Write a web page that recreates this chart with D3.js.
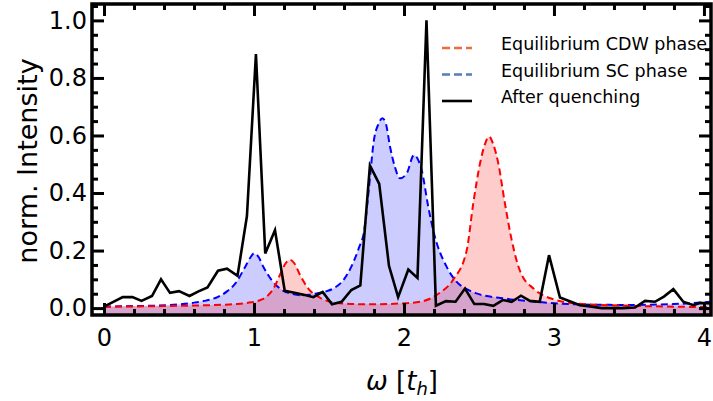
<!DOCTYPE html>
<html>
<head>
<meta charset="utf-8">
<script src="https://cdn.jsdelivr.net/npm/d3@7"></script>
<style>
  body { margin: 0; background: #fff; }
  text { font-family: "DejaVu Sans", Verdana, sans-serif; fill: #000; }
</style>
</head>
<body>
<div id="chart"></div>
<script>
// spectra (omega in t_h, normalised intensity)
const quenchW = [0.0, 0.125, 0.19, 0.25, 0.32, 0.38, 0.44, 0.50, 0.57, 0.63, 0.69, 0.76, 0.82, 0.89, 0.953, 1.013,
  1.075, 1.14, 1.205, 1.27, 1.333, 1.396, 1.458, 1.52, 1.584, 1.649, 1.709, 1.773, 1.835, 1.9, 1.961, 2.029, 2.09, 2.15,
  2.213, 2.28, 2.344, 2.407, 2.469, 2.533, 2.596, 2.658, 2.718, 2.78, 2.84, 2.905, 2.967, 3.04, 3.105, 3.173, 3.24,
  3.318, 3.384, 3.46, 3.54, 3.607, 3.673, 3.733, 3.796, 3.862, 3.93, 3.973, 4.05];
const quenchI = [0.005, 0.038, 0.038, 0.025, 0.042, 0.10, 0.053, 0.059, 0.042, 0.058, 0.072, 0.13, 0.137, 0.112, 0.32, 0.883,
  0.19, 0.271, 0.06, 0.053, 0.046, 0.038, 0.056, 0.013, 0.022, 0.063, 0.079, 0.496, 0.432, 0.147, 0.038, 0.134, 0.105, 1.0,
  0.008, 0.024, 0.022, 0.068, 0.014, 0.014, 0.008, 0.028, 0.022, 0.043, 0.025, 0.022, 0.184, 0.037, 0.024, 0.01, 0.006,
  0.0, 0.0, 0.0, 0.002, 0.025, 0.022, 0.04, 0.066, 0.022, 0.01, 0.018, 0.016];

const scW = [0.0, 0.2, 0.364, 0.5, 0.587, 0.68, 0.764, 0.82, 0.876, 0.942, 0.975, 1.0, 1.03, 1.062, 1.118, 1.196, 1.25,
  1.307, 1.36, 1.418, 1.48, 1.529, 1.6, 1.65, 1.7, 1.735, 1.765, 1.8, 1.83, 1.856, 1.88, 1.907, 1.94, 1.973, 2.018,
  2.067, 2.09, 2.118, 2.162, 2.2, 2.284, 2.35, 2.429, 2.484, 2.662, 2.884, 3.15, 3.5, 3.8, 4.05];
const scI = [0.005, 0.007, 0.009, 0.013, 0.018, 0.026, 0.04, 0.058, 0.086, 0.144, 0.175, 0.19, 0.178, 0.144, 0.097, 0.06, 0.05,
  0.045, 0.046, 0.051, 0.058, 0.068, 0.10, 0.145, 0.21, 0.27, 0.41, 0.585, 0.64, 0.66, 0.64, 0.561, 0.49, 0.451, 0.468,
  0.532, 0.52, 0.48, 0.352, 0.26, 0.144, 0.092, 0.063, 0.051, 0.034, 0.022, 0.013, 0.011, 0.014, 0.022];

const cdwW = [0.0, 0.4, 0.6, 0.81, 0.907, 0.98, 1.053, 1.084, 1.13, 1.173, 1.21, 1.24, 1.27, 1.307, 1.362, 1.44, 1.55,
  1.75, 1.973, 2.107, 2.23, 2.33, 2.418, 2.462, 2.507, 2.54, 2.567, 2.595, 2.629, 2.673, 2.718, 2.773, 2.87, 3.0, 3.15,
  3.5, 3.8, 4.05];
const cdwI = [0.005, 0.007, 0.009, 0.012, 0.015, 0.02, 0.03, 0.04, 0.068, 0.115, 0.155, 0.168, 0.155, 0.115, 0.068, 0.036, 0.018,
  0.013, 0.016, 0.022, 0.05, 0.1, 0.2, 0.364, 0.503, 0.57, 0.596, 0.57, 0.503, 0.364, 0.237, 0.13, 0.065, 0.03, 0.016,
  0.008, 0.005, 0.003];

const xMajor = [0, 1, 2, 3, 4];
const yMajor = [0, 0.2, 0.4, 0.6, 0.8, 1.0];
const legendLabels = ["Equilibrium CDW phase", "Equilibrium SC phase", "After quenching"];

const W = 713, H = 401;
const pLeft = 92, pRight = 711, pTop = 4, pBottom = 315;

const svg = d3.select("#chart").append("svg")
  .attr("width", W).attr("height", H);

const x = d3.scaleLinear().domain([-0.08, 4.047]).range([pLeft, pRight]);
const y = d3.scaleLinear().domain([-0.024, 1.057]).range([pBottom, pTop]);

svg.append("clipPath").attr("id", "plotclip")
  .append("rect").attr("x", pLeft).attr("y", pTop).attr("width", pRight - pLeft).attr("height", pBottom - pTop);

const plot = svg.append("g").attr("clip-path", "url(#plotclip)");

function pairs(ws, vs) { return ws.map((w, i) => [w, vs[i]]); }

const smooth = d3.line().x(d => x(d[0])).y(d => y(d[1])).curve(d3.curveMonotoneX);
const area = d3.area().x(d => x(d[0])).y0(pBottom).y1(d => y(d[1])).curve(d3.curveMonotoneX);

const sc = pairs(scW, scI), cdw = pairs(cdwW, cdwI), quench = pairs(quenchW, quenchI);

plot.append("path").attr("d", area(sc)).attr("fill", "blue").attr("fill-opacity", 0.2);
plot.append("path").attr("d", area(cdw)).attr("fill", "red").attr("fill-opacity", 0.2);
plot.append("path").attr("d", smooth(sc)).attr("fill", "none").attr("stroke", "blue")
  .attr("stroke-width", 2).attr("stroke-dasharray", "7,4");
plot.append("path").attr("d", smooth(cdw)).attr("fill", "none").attr("stroke", "red")
  .attr("stroke-width", 2).attr("stroke-dasharray", "7,4");
plot.append("path").attr("d", d3.line().x(d => x(d[0])).y(d => y(d[1]))(quench))
  .attr("fill", "none").attr("stroke", "#000").attr("stroke-width", 2.6).attr("stroke-linejoin", "miter");

// ticks, all pointing inward
const xMinor = d3.range(0, 4.05, 0.2).filter(v => Math.abs(v - Math.round(v)) > 1e-6);
const yMinor = d3.range(0, 1.06, 0.05).filter(v => Math.abs(v * 5 - Math.round(v * 5)) > 1e-6);

function styleAxis(g) {
  g.select(".domain").remove();
  g.selectAll("line").attr("stroke", "#000").attr("stroke-width", 3);
  g.selectAll("text").attr("font-size", 24).attr("font-family", "DejaVu Sans");
}

svg.append("g").attr("transform", `translate(0,${pBottom})`)
  .call(d3.axisBottom(x).tickValues(xMajor).tickSize(-12).tickPadding(14).tickFormat(d3.format("d"))).call(styleAxis);
svg.append("g").attr("transform", `translate(0,${pBottom})`)
  .call(d3.axisBottom(x).tickValues(xMinor).tickSize(-6).tickFormat("")).call(styleAxis);
svg.append("g").attr("transform", `translate(0,${pTop})`)
  .call(d3.axisTop(x).tickValues(xMajor).tickSize(-12).tickFormat("")).call(styleAxis);
svg.append("g").attr("transform", `translate(0,${pTop})`)
  .call(d3.axisTop(x).tickValues(xMinor).tickSize(-6).tickFormat("")).call(styleAxis);

svg.append("g").attr("transform", `translate(${pLeft},0)`)
  .call(d3.axisLeft(y).tickValues(yMajor).tickSize(-12).tickPadding(5).tickFormat(d3.format(".1f"))).call(styleAxis);
svg.append("g").attr("transform", `translate(${pLeft},0)`)
  .call(d3.axisLeft(y).tickValues(yMinor).tickSize(-6).tickFormat("")).call(styleAxis);
svg.append("g").attr("transform", `translate(${pRight},0)`)
  .call(d3.axisRight(y).tickValues(yMajor).tickSize(-12).tickFormat("")).call(styleAxis);
svg.append("g").attr("transform", `translate(${pRight},0)`)
  .call(d3.axisRight(y).tickValues(yMinor).tickSize(-6).tickFormat("")).call(styleAxis);

// frame
svg.append("rect").attr("x", pLeft).attr("y", pTop).attr("width", pRight - pLeft).attr("height", pBottom - pTop)
  .attr("fill", "none").attr("stroke", "#000").attr("stroke-width", 3.5);

// axis titles
svg.append("text").attr("transform", "translate(37,161) rotate(-90)")
  .attr("text-anchor", "middle").attr("font-size", 27).text("norm. Intensity");

const xt = svg.append("text").attr("x", 402).attr("y", 390).attr("text-anchor", "middle").attr("font-size", 26);
xt.append("tspan").attr("font-style", "italic").text("ω");
xt.append("tspan").text(" [");
xt.append("tspan").attr("font-style", "italic").text("t");
xt.append("tspan").attr("font-style", "italic").attr("font-size", 18).attr("dy", 5).text("h");
xt.append("tspan").attr("dy", -5).text("]");

// legend
const legendColors = ["#ef6b3d", "#5a7cb6", "#000"];
const legendDash = ["8,4", "8,4", null];
const lg = svg.append("g");
legendLabels.forEach((lab, i) => {
  const by = 50 + i * 26.5;
  lg.append("line").attr("x1", 442).attr("x2", 472).attr("y1", by - 2).attr("y2", by - 2)
    .attr("stroke", legendColors[i]).attr("stroke-width", 2.6)
    .attr("stroke-dasharray", legendDash[i]);
  lg.append("text").attr("x", 501).attr("y", by).attr("font-size", 17.5).text(lab);
});
</script>
</body>
</html>
